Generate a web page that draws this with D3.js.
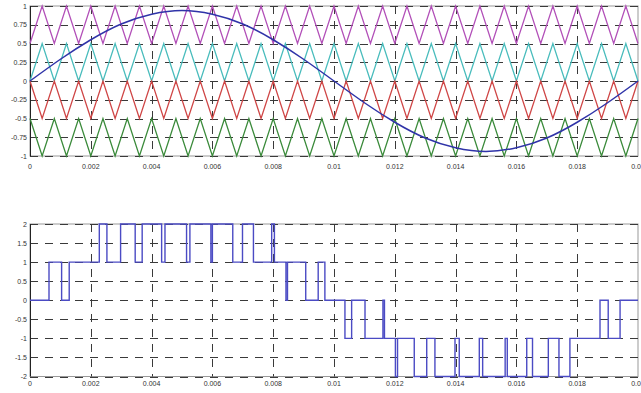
<!DOCTYPE html>
<html>
<head>
<meta charset="utf-8">
<script src="https://cdn.jsdelivr.net/npm/d3@7"></script>
<style>
  body { margin: 0; background: #fff; }
  svg { display: block; }
  text { font-family: "Liberation Sans", Arial, sans-serif; }
</style>
</head>
<body>
<svg id="chart" width="641" height="393"></svg>
<script>
// time ticks shared by both plots
const xTicks = [0, 0.002, 0.004, 0.006, 0.008, 0.01, 0.012, 0.014, 0.016, 0.018, 0.02];
const xTickLabels = ["0", "0.002", "0.004", "0.006", "0.008", "0.01", "0.012", "0.014", "0.016", "0.018", "0.02"];

const topTicks = [-1, -0.75, -0.5, -0.25, 0, 0.25, 0.5, 0.75, 1];
const topTickLabels = ["-1", "-0.75", "-0.5", "-0.25", "0", "0.25", "0.5", "0.75", "1"];
const botTicks = [-2, -1.5, -1, -0.5, 0, 0.5, 1, 1.5, 2];
const botTickLabels = ["-2", "-1.5", "-1", "-0.5", "0", "0.5", "1", "1.5", "2"];

// triangular carriers: vertex times, value at even vertices, value at odd vertices
const carrierTimes = [
  0, 0.0004, 0.0008, 0.0012, 0.0016, 0.002, 0.0024, 0.0028, 0.0032, 0.0036,
  0.004, 0.0044, 0.0048, 0.0052, 0.0056, 0.006, 0.0064, 0.0068, 0.0072, 0.0076,
  0.008, 0.0084, 0.0088, 0.0092, 0.0096, 0.01, 0.0104, 0.0108, 0.0112, 0.0116,
  0.012, 0.0124, 0.0128, 0.0132, 0.0136, 0.014, 0.0144, 0.0148, 0.0152, 0.0156,
  0.016, 0.0164, 0.0168, 0.0172, 0.0176, 0.018, 0.0184, 0.0188, 0.0192, 0.0196, 0.02
];
const carrierEven = [0.5, 0, 0, -0.5];
const carrierOdd = [1, 0.5, -0.5, -1];
const carrierColors = ["#b24fb8", "#48bcbc", "#cf4545", "#3a8a3a"];

// reference sine
const sineTimes = [0, 0.001, 0.002, 0.003, 0.004, 0.005, 0.006, 0.007, 0.008, 0.009, 0.01,
  0.011, 0.012, 0.013, 0.014, 0.015, 0.016, 0.017, 0.018, 0.019, 0.02];
const sineValues = [0, 0.29, 0.55, 0.76, 0.89, 0.94, 0.89, 0.76, 0.55, 0.29, 0,
  -0.29, -0.55, -0.76, -0.89, -0.94, -0.89, -0.76, -0.55, -0.29, 0];

// output voltage levels (step after each time)
const stepTimes = [
  0, 0.000625, 0.00104, 0.00129, 0.00228, 0.00253, 0.00298, 0.00346, 0.00369, 0.00433,
  0.00444, 0.00515, 0.00526, 0.00595, 0.00600, 0.00667, 0.00699, 0.00735, 0.00795, 0.00804,
  0.00842, 0.00847, 0.00907, 0.00948, 0.00970, 0.01036, 0.01058, 0.01102, 0.01161, 0.01166,
  0.01202, 0.01209, 0.01264, 0.01305, 0.01332, 0.01398, 0.01412, 0.01478, 0.01489, 0.01563,
  0.01570, 0.01634, 0.01653, 0.01705, 0.01740, 0.01776, 0.01875, 0.01902, 0.01941, 0.02
];
const stepLevels = [
  0, 1, 0, 1, 2, 1, 2, 1, 2, 1,
  2, 1, 2, 1, 2, 1, 2, 1, 2, 1,
  0, 1, 0, 1, 0, -1, 0, -1, 0, -1,
  -2, -1, -2, -1, -2, -1, -2, -1, -2, -1,
  -2, -1, -2, -1, -2, -1, 0, -1, 0, 0
];

const svg = d3.select("#chart");
svg.append("rect").attr("width", 641).attr("height", 393).attr("fill", "#fff");

const left = 30, right = 638;
const x = d3.scaleLinear().domain([0, 0.02]).range([left, right]);
const yTop = d3.scaleLinear().domain([-1, 1]).range([156, 6]);
const yBot = d3.scaleLinear().domain([-2, 2]).range([376.5, 224]);

// axes frame, grid and tick labels
function drawPanel(y, ticks, labels, labelY) {
  const [y0, y1] = y.range();
  const g = svg.append("g");

  g.append("rect")
    .attr("x", left).attr("y", y1)
    .attr("width", right - left).attr("height", y0 - y1)
    .attr("fill", "none").attr("stroke", "#999").attr("stroke-width", 1);

  // horizontal dashed grid
  g.selectAll(".hgrid").data(ticks).join("line")
    .attr("x1", left).attr("x2", right)
    .attr("y1", d => Math.round(y(d)) + 0.5).attr("y2", d => Math.round(y(d)) + 0.5)
    .attr("stroke", "#3a3a3a").attr("stroke-width", 1)
    .attr("stroke-dasharray", "8,7");

  // vertical dashed grid
  g.selectAll(".vgrid").data(xTicks.slice(1, -1)).join("line")
    .attr("x1", d => Math.round(x(d)) + 0.5).attr("x2", d => Math.round(x(d)) + 0.5)
    .attr("y1", y1).attr("y2", y0)
    .attr("stroke", "#3a3a3a").attr("stroke-width", 1)
    .attr("stroke-dasharray", "8,7");

  // left axis line
  g.append("line")
    .attr("x1", left + 0.5).attr("x2", left + 0.5)
    .attr("y1", y1).attr("y2", y0)
    .attr("stroke", "#222");

  // y labels
  g.selectAll(".ylab").data(ticks).join("text")
    .attr("x", 27).attr("y", d => y(d) + 2.5)
    .attr("text-anchor", "end")
    .attr("font-size", 7).attr("fill", "#333")
    .text((d, i) => labels[i]);

  // x labels
  g.selectAll(".xlab").data(xTicks).join("text")
    .attr("x", d => x(d)).attr("y", labelY)
    .attr("text-anchor", "middle")
    .attr("font-size", 7).attr("fill", "#333")
    .text((d, i) => xTickLabels[i]);
}

drawPanel(yTop, topTicks, topTickLabels, 169);
drawPanel(yBot, botTicks, botTickLabels, 386);

// carriers
const carrierLine = d3.line().x(d => x(d[0])).y(d => yTop(d[1]));
carrierEven.forEach((ev, c) => {
  const pts = carrierTimes.map((t, i) => [t, i % 2 === 0 ? ev : carrierOdd[c]]);
  svg.append("path")
    .datum(pts)
    .attr("fill", "none")
    .attr("stroke", carrierColors[c])
    .attr("stroke-width", 1.3)
    .attr("d", carrierLine);
});

// sine
svg.append("path")
  .datum(sineTimes.map((t, i) => [t, sineValues[i]]))
  .attr("fill", "none")
  .attr("stroke", "#2f33a8")
  .attr("stroke-width", 1.5)
  .attr("d", d3.line().curve(d3.curveNatural).x(d => x(d[0])).y(d => yTop(d[1])));

// stepped output
svg.append("path")
  .datum(stepTimes.map((t, i) => [t, stepLevels[i]]))
  .attr("fill", "none")
  .attr("stroke", "#4b4bc4")
  .attr("stroke-width", 1.4)
  .attr("d", d3.line().curve(d3.curveStepAfter).x(d => x(d[0])).y(d => yBot(d[1])));
</script>
</body>
</html>
